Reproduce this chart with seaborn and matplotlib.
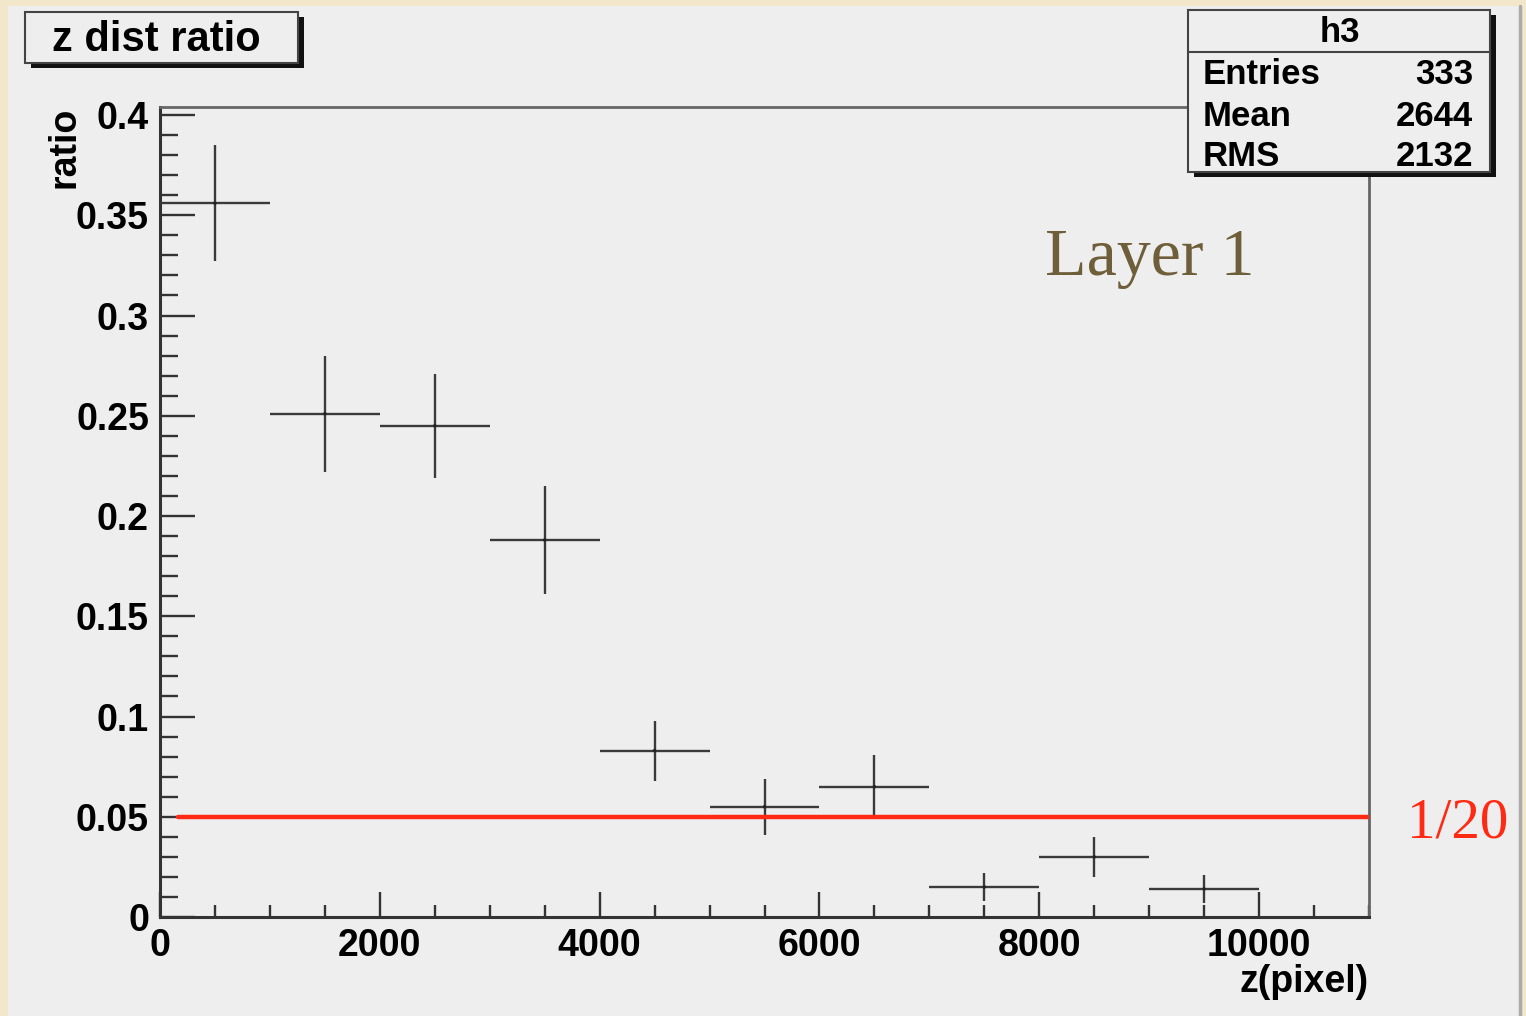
import numpy as np
import pandas as pd
import matplotlib
matplotlib.use('Agg')
import matplotlib.pyplot as plt
from matplotlib.patches import Rectangle
from matplotlib.lines import Line2D
from matplotlib.ticker import MultipleLocator, FuncFormatter
import seaborn as sns

# ---- data ----
bin_centers = [500, 1500, 2500, 3500, 4500, 5500, 6500, 7500, 8500, 9500]
ratio = [0.356, 0.251, 0.245, 0.188, 0.083, 0.055, 0.065, 0.015, 0.030, 0.014]
ratio_err = [0.029, 0.029, 0.026, 0.027, 0.015, 0.014, 0.016, 0.007, 0.010, 0.007]
bin_width = 1000
ref_level = 1 / 20
ref_span = [160, 10990]
stats_names = ['Entries', 'Mean', 'RMS']
stats_values = ['333', '2644', '2132']

df = pd.DataFrame({'z': bin_centers, 'ratio': ratio, 'err': ratio_err})

sns.set_theme(style='ticks')
plt.rcParams['font.family'] = ['Liberation Sans', 'DejaVu Sans']
plt.rcParams['font.weight'] = 'bold'
plt.rcParams['text.color'] = 'black'
plt.rcParams['axes.labelcolor'] = 'black'

W, H = 1526, 1016
fig = plt.figure(figsize=(W / 100, H / 100), dpi=100)
fig.patch.set_facecolor('#f2e7ca')

def fx(x):
    return x / W

def fy(y):
    return 1 - y / H

def box(x0, y0, x1, y1, **kw):
    r = Rectangle((fx(x0), fy(y1)), fx(x1) - fx(x0), fy(y0) - fy(y1),
                  transform=fig.transFigure, **kw)
    fig.add_artist(r)
    return r

# grey canvas
box(8, 6, 1520, 1020, facecolor='#eeeeee', edgecolor='none', zorder=0)
fig.add_artist(Line2D([fx(1520), fx(1520)], [fy(6), fy(1016)], transform=fig.transFigure,
                      color='#aaaaaa', lw=2.5, zorder=1))

ax = fig.add_axes([fx(160), fy(917), fx(1369) - fx(160), fy(107) - fy(917)])
ax.set_facecolor('#eeeeee')

ax.errorbar(df['z'], df['ratio'], xerr=bin_width / 2, yerr=df['err'], fmt='none',
            ecolor='#3a3a3a', elinewidth=1.7, capsize=0, zorder=3)
sns.scatterplot(data=df, x='z', y='ratio', ax=ax, color='#222222', s=6,
                edgecolor='none', zorder=4, legend=False)
ax.plot(ref_span, [ref_level, ref_level], color='#ff2a14', lw=3.2, zorder=5)

ax.set_xlim(0, 11000)
ax.set_ylim(0, 0.404)

ax.xaxis.set_major_locator(MultipleLocator(2000))
ax.xaxis.set_minor_locator(MultipleLocator(500))
ax.yaxis.set_major_locator(MultipleLocator(0.05))
ax.yaxis.set_minor_locator(MultipleLocator(0.01))
fmt = FuncFormatter(lambda v, p: '%g' % round(v, 4))
ax.xaxis.set_major_formatter(fmt)
ax.yaxis.set_major_formatter(fmt)

ax.tick_params(axis='both', which='both', direction='in', colors='#333333',
               labelcolor='black', labelsize=27, pad=8)
ax.tick_params(axis='y', which='major', length=25, width=1.7)
ax.tick_params(axis='y', which='minor', length=13, width=1.7)
ax.tick_params(axis='x', which='major', length=18, width=1.7)
ax.tick_params(axis='x', which='minor', length=9, width=1.7)
for lab in ax.get_xticklabels() + ax.get_yticklabels():
    lab.set_fontweight('bold')

for side in ['left', 'bottom']:
    ax.spines[side].set_color('#333333')
    ax.spines[side].set_linewidth(2.2)
for side in ['top', 'right']:
    ax.spines[side].set_visible(True)
    ax.spines[side].set_color('#666666')
    ax.spines[side].set_linewidth(2.0)

ax.set_ylabel('ratio', fontsize=27, fontweight='bold', loc='top')
ax.yaxis.set_label_coords(-0.064, 1.0)
ax.set_xlabel('z(pixel)', fontsize=27, fontweight='bold', loc='right', va='top')
ax.xaxis.set_label_coords(1.0, -0.058)

# title box
box(31, 17, 304, 68, facecolor='#111111', edgecolor='none', zorder=6)
box(25, 12, 298, 63, facecolor='#eeeeee', edgecolor='#444444', lw=1.5, zorder=7)
fig.text(fx(52), fy(40), 'z dist ratio', fontsize=30, fontweight='bold',
         ha='left', va='center', zorder=8)

# stats box
box(1194, 15, 1496, 177, facecolor='#111111', edgecolor='none', zorder=6)
box(1188, 10, 1490, 172, facecolor='#eeeeee', edgecolor='#444444', lw=1.5, zorder=7)
fig.add_artist(Line2D([fx(1188), fx(1490)], [fy(52), fy(52)], transform=fig.transFigure,
                      color='#444444', lw=1.5, zorder=8))
fig.text(fx(1340), fy(33), 'h3', fontsize=25, fontweight='bold', ha='center', va='center', zorder=8)
for i, (name, val) in enumerate(zip(stats_names, stats_values)):
    yy = 75 + i * 41
    fig.text(fx(1203), fy(yy), name, fontsize=25, fontweight='bold', ha='left', va='center', zorder=8)
    fig.text(fx(1473), fy(yy), val, fontsize=25, fontweight='bold', ha='right', va='center', zorder=8)

# annotations
fig.text(fx(1045), fy(275), 'Layer 1', fontsize=49, family=['Liberation Serif', 'DejaVu Serif'],
         fontweight='normal', color='#6e5e3a', ha='left', va='baseline')
fig.text(fx(1407), fy(837), '1/20', fontsize=41, family=['Liberation Serif', 'DejaVu Serif'],
         fontweight='normal', color='#ff2a14', ha='left', va='baseline')

fig.savefig('out.png', dpi=100, facecolor=fig.get_facecolor())
